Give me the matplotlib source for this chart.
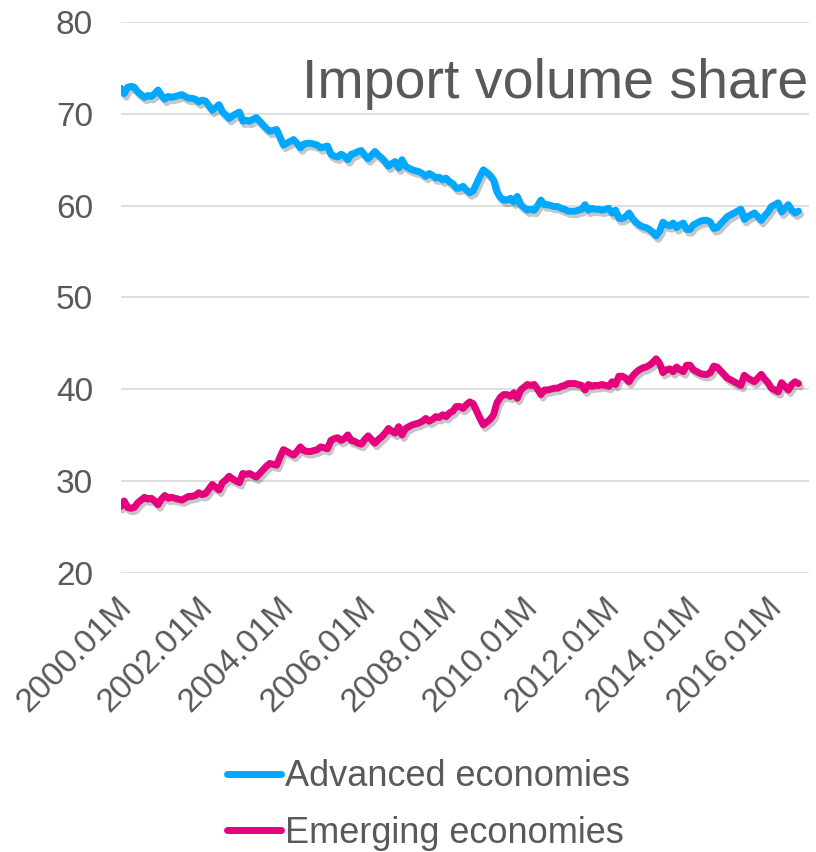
import numpy as np
import matplotlib
matplotlib.use('Agg')
import matplotlib.pyplot as plt
import matplotlib.patheffects as pe
import matplotlib.transforms as mtransforms

# Monthly import volume shares, 2000.01M - 2016.09M
advanced = [
    72.8, 72.2, 72.9, 73.0, 72.9, 72.4, 72.1, 71.8, 72.0, 71.9, 72.2, 72.6,
    72.0, 71.6, 71.9, 71.8, 71.9, 72.0, 72.1, 71.9, 71.7, 71.7, 71.6, 71.3,
    71.5, 71.4, 70.9, 70.4, 70.7, 71.0, 70.2, 69.9, 69.5, 69.8, 70.0, 70.2,
    69.2, 69.3, 69.2, 69.4, 69.6, 69.2, 68.8, 68.4, 68.1, 68.2, 68.3, 67.4,
    66.6, 66.8, 67.0, 67.2, 66.8, 66.3, 66.7, 66.8, 66.8, 66.7, 66.6, 66.3,
    66.4, 66.5, 65.6, 65.4, 65.3, 65.6, 65.4, 65.0, 65.6, 65.7, 65.9, 66.0,
    65.5, 65.1, 65.5, 65.9, 65.5, 65.2, 64.8, 64.3, 64.6, 64.8, 64.1, 65.0,
    64.3, 64.1, 63.9, 63.8, 63.7, 63.5, 63.2, 63.5, 63.3, 63.0, 63.1, 62.8,
    63.0, 62.6, 62.4, 61.9, 61.9, 62.1, 61.7, 61.4, 61.6, 62.4, 63.2, 63.9,
    63.6, 63.3, 62.8, 61.5, 60.9, 60.6, 60.6, 60.8, 60.4, 61.0, 60.1, 59.8,
    59.5, 59.6, 59.5, 60.0, 60.6, 60.1, 60.1, 60.0, 59.9, 59.9, 59.7, 59.6,
    59.4, 59.4, 59.4, 59.5, 59.6, 60.1, 59.5, 59.7, 59.6, 59.6, 59.5, 59.6,
    59.7, 59.2, 59.5, 58.6, 58.6, 58.8, 59.2, 58.6, 58.2, 57.9, 57.7, 57.6,
    57.4, 57.1, 56.7, 57.2, 58.2, 57.9, 57.8, 58.1, 57.6, 57.9, 58.1, 57.4,
    57.4, 57.9, 58.1, 58.3, 58.4, 58.4, 58.2, 57.5, 57.6, 58.0, 58.4, 58.8,
    59.0, 59.2, 59.4, 59.6, 58.5, 58.8, 59.0, 59.2, 58.8, 58.4, 58.9, 59.3,
    59.9, 60.1, 60.3, 59.3, 59.7, 60.1, 59.5, 59.2, 59.4,
]
emerging = [
    27.2, 27.8, 27.1, 27.0, 27.1, 27.6, 27.9, 28.2, 28.0, 28.1, 27.8, 27.4,
    28.0, 28.4, 28.1, 28.2, 28.1, 28.0, 27.9, 28.1, 28.3, 28.3, 28.4, 28.7,
    28.5, 28.6, 29.1, 29.6, 29.3, 29.0, 29.8, 30.1, 30.5, 30.2, 30.0, 29.8,
    30.8, 30.7, 30.8, 30.6, 30.4, 30.8, 31.2, 31.6, 31.9, 31.8, 31.7, 32.6,
    33.4, 33.2, 33.0, 32.8, 33.2, 33.7, 33.3, 33.2, 33.2, 33.3, 33.4, 33.7,
    33.6, 33.5, 34.4, 34.6, 34.7, 34.4, 34.6, 35.0, 34.4, 34.3, 34.1, 34.0,
    34.5, 34.9, 34.5, 34.1, 34.5, 34.8, 35.2, 35.7, 35.4, 35.2, 35.9, 35.0,
    35.7, 35.9, 36.1, 36.2, 36.3, 36.5, 36.8, 36.5, 36.7, 37.0, 36.9, 37.2,
    37.0, 37.4, 37.6, 38.1, 38.1, 37.9, 38.3, 38.6, 38.4, 37.6, 36.8, 36.1,
    36.4, 36.7, 37.2, 38.5, 39.1, 39.4, 39.4, 39.2, 39.6, 39.0, 39.9, 40.2,
    40.5, 40.4, 40.5, 40.0, 39.4, 39.9, 39.9, 40.0, 40.1, 40.1, 40.3, 40.4,
    40.6, 40.6, 40.6, 40.5, 40.4, 39.9, 40.5, 40.3, 40.4, 40.4, 40.5, 40.4,
    40.3, 40.8, 40.5, 41.4, 41.4, 41.2, 40.8, 41.4, 41.8, 42.1, 42.3, 42.4,
    42.6, 42.9, 43.3, 42.8, 41.8, 42.1, 42.2, 41.9, 42.4, 42.1, 41.9, 42.6,
    42.6, 42.1, 41.9, 41.7, 41.6, 41.6, 41.8, 42.5, 42.4, 42.0, 41.6, 41.2,
    41.0, 40.8, 40.6, 40.4, 41.5, 41.2, 41.0, 40.8, 41.2, 41.6, 41.1, 40.7,
    40.1, 39.9, 39.7, 40.7, 40.3, 39.9, 40.5, 40.8, 40.6,
]
tick_years = [2000, 2002, 2004, 2006, 2008, 2010, 2012, 2014, 2016]
y_ticks = [20, 30, 40, 50, 60, 70, 80]

blue = '#00a8ff'
pink = '#e5007d'
grey_text = '#595959'

plt.rcParams['font.family'] = ['Liberation Sans', 'DejaVu Sans']

fig = plt.figure(figsize=(8.16, 8.52), dpi=100)
ax = fig.add_axes([0.148, 0.328, 0.843, 0.646])

months = np.arange(len(advanced))
shadow = [pe.SimpleLineShadow(offset=(1.5, -2.5), shadow_color='#444444', alpha=0.3),
          pe.Normal()]
ax.plot(months, advanced, color=blue, lw=5.0, solid_capstyle='round',
        solid_joinstyle='round', label='Advanced economies', path_effects=shadow)
ax.plot(months, emerging, color=pink, lw=5.0, solid_capstyle='round',
        solid_joinstyle='round', label='Emerging economies', path_effects=shadow)

ax.set_xlim(0, 203)
ax.set_ylim(20, 80)
ax.set_yticks(y_ticks)
ax.set_yticklabels([str(v) for v in y_ticks])
ax.yaxis.grid(True, color='#d9d9d9', lw=1.2)
ax.set_axisbelow(True)
for s in ax.spines.values():
    s.set_visible(False)
ax.tick_params(axis='both', length=0, colors=grey_text, labelsize=24)
ax.tick_params(axis='y', pad=20)

ax.set_xticks([(y - 2000) * 12 for y in tick_years])
ax.set_xticklabels(['%d.01M' % y for y in tick_years], rotation=45,
                   ha='right', va='top', rotation_mode='anchor')
offset = mtransforms.ScaledTranslation(-0.05, -0.14, fig.dpi_scale_trans)
for lbl in ax.get_xticklabels():
    lbl.set_transform(lbl.get_transform() + offset)

fig.text(0.99, 0.885, 'Import volume share', ha='right', va='baseline',
         fontsize=40, color=grey_text)

leg = fig.legend(loc='upper center', bbox_to_anchor=(0.525, 0.147),
                 frameon=False, fontsize=26, handlelength=1.5,
                 handletextpad=0.1, labelspacing=0.6)
for t in leg.get_texts():
    t.set_color(grey_text)
for h in leg.legend_handles:
    h.set_linewidth(5.0)
    h.set_path_effects([])

fig.savefig('out.png', dpi=100)
